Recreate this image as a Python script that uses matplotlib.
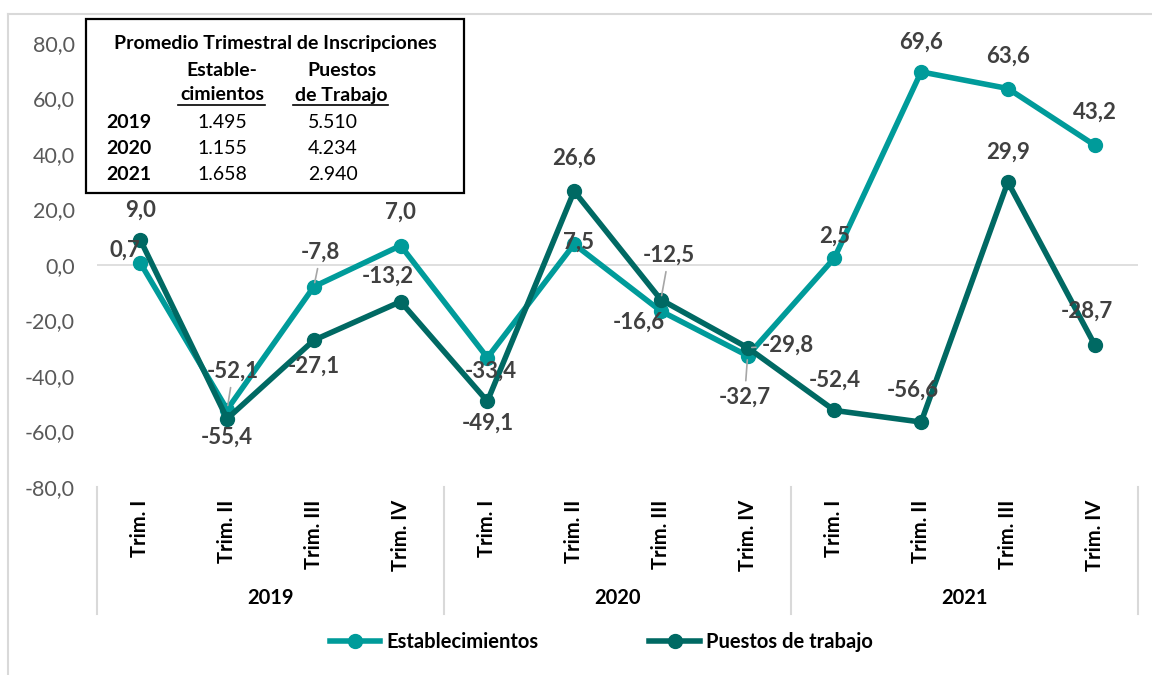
import matplotlib
matplotlib.use("Agg")
import matplotlib.pyplot as plt
import matplotlib.transforms as mtransforms
from matplotlib.patches import Rectangle
from matplotlib.lines import Line2D

plt.rcParams['font.family'] = ['Lato', 'DejaVu Sans']

# data
trimestres = ['Trim. I', 'Trim. II', 'Trim. III', 'Trim. IV'] * 3
years = ['2019', '2020', '2021']
establecimientos = [0.7, -52.1, -7.8, 7.0, -33.4, 7.5, -16.6, -32.7, 2.5, 69.6, 63.6, 43.2]
puestos = [9.0, -55.4, -27.1, -13.2, -49.1, 26.6, -12.5, -29.8, -52.4, -56.6, 29.9, -28.7]

# inset table
tabla_years = ['2019', '2020', '2021']
tabla_est = ['1.495', '1.155', '1.658']
tabla_pue = ['5.510', '4.234', '2.940']

c_est = '#009B9A'
c_pue = '#006963'
c_lbl = '#404040'
c_grid = '#d9d9d9'

W, H = 1152, 675
fig = plt.figure(figsize=(W / 100, H / 100), dpi=100)
ax = fig.add_axes([97 / W, 1 - 487 / H, (1138 - 97) / W, (487 - 43) / H])

x = list(range(len(establecimientos)))
ax.plot(x, establecimientos, color=c_est, lw=4, marker='o', ms=10, zorder=3, label='Establecimientos')
ax.plot(x, puestos, color=c_pue, lw=4, marker='o', ms=10, zorder=4, label='Puestos de trabajo')

ax.set_xlim(-0.5, 11.5)
ax.set_ylim(-80, 80)
ax.set_yticks(range(-80, 81, 20))
ax.set_yticklabels([f"{v:.1f}".replace('.', ',') for v in range(-80, 81, 20)],
                   fontsize=15.5, color='#595959')
ax.set_xticks(x)
ax.set_xticklabels(trimestres, rotation=90, fontsize=14.5, fontweight='bold', va='top')
ax.tick_params(axis='both', length=0)
ax.tick_params(axis='y', pad=16)
ax.tick_params(axis='x', pad=9)
for s in ax.spines.values():
    s.set_visible(False)
ax.axhline(0, color=c_grid, lw=1.2, zorder=1)

# group dividers and year labels
trans = mtransforms.blended_transform_factory(ax.transData, ax.transAxes)
for xd in [-0.5, 3.5, 7.5, 11.5]:
    ax.plot([xd, xd], [0, -0.285], color=c_grid, lw=1.5, transform=trans, clip_on=False)
for i, yr in enumerate(years):
    ax.text(i * 4 + 1.5, -0.25, yr, transform=trans, ha='center', va='center',
            fontsize=14.5, fontweight='bold')

# data labels (offsets in pixels)
off_est = [(-15, 13), (6, 38), (7, 34), (0, 33), (3, -14), (4, 2),
           (-22, -11), (-3, -41), (0, 22), (0, 30), (0, 32), (0, 33)]
off_pue = [(0, 30), (0, -18), (0, -26), (-13, 25), (0, -22), (0, 33),
           (8, 44), (40, 2), (0, 30), (-8, 32), (0, 30), (-8, 33)]
leader_est = [1, 2, 7]
leader_pue = [6, 7]

for series, offs, leaders in [(establecimientos, off_est, leader_est),
                              (puestos, off_pue, leader_pue)]:
    for i, v in enumerate(series):
        ap = None
        if i in leaders:
            ap = dict(arrowstyle='-', color='#a6a6a6', lw=1.2, shrinkA=2, shrinkB=3)
        ax.annotate(f"{v:.1f}".replace('.', ','), (i, v), xytext=offs[i],
                    textcoords='offset pixels', ha='center', va='center',
                    fontsize=16, fontweight='bold', color=c_lbl, zorder=6,
                    arrowprops=ap)

# legend
fig.legend(loc='center', bbox_to_anchor=(0.522, 1 - 642 / H), ncol=2, frameon=False,
           prop={'size': 14.5, 'weight': 'bold'}, handlelength=2.5, handletextpad=0.3,
           columnspacing=5.5)

# outer border (cropped)
fig.add_artist(Line2D([8 / W, 1], [1 - 14 / H, 1 - 14 / H], color=c_grid, lw=1.5))
fig.add_artist(Line2D([8 / W, 8 / W], [0, 1 - 14 / H], color=c_grid, lw=1.5))

# inset box
fig.add_artist(Rectangle((86 / W, 1 - 193 / H), 378 / W, 174 / H, transform=fig.transFigure,
                         facecolor='white', edgecolor='black', lw=1.6, zorder=10))


def ftext(px, py, s, **kw):
    fig.text(px / W, 1 - py / H, s, zorder=11, va='center', fontsize=14, **kw)


ftext(275, 44, 'Promedio Trimestral de Inscripciones', ha='center', fontweight='bold')
ftext(222, 70, 'Estable-', ha='center', fontweight='bold')
ftext(342, 70, 'Puestos', ha='center', fontweight='bold')
ftext(222, 95, 'cimientos', ha='center', fontweight='bold')
ftext(341, 95, 'de Trabajo', ha='center', fontweight='bold')
for x0, x1 in [(178, 265), (293, 388)]:
    fig.add_artist(Line2D([x0 / W, x1 / W], [1 - 105 / H, 1 - 105 / H], color='black', lw=1.2, zorder=11))
for j, yr in enumerate(tabla_years):
    py = 122 + j * 26
    ftext(106, py, yr, ha='left', fontweight='bold')
    ftext(222, py, tabla_est[j], ha='center')
    ftext(333, py, tabla_pue[j], ha='center')

fig.savefig('out.png', dpi=100, facecolor='white')
